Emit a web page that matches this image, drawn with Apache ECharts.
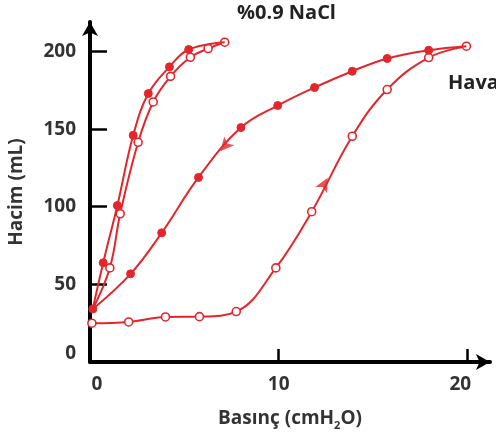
<!DOCTYPE html>
<html>
<head>
<meta charset="utf-8">
<script src="https://cdn.jsdelivr.net/npm/echarts@6/dist/echarts.min.js"></script>
<style>
  html, body { margin: 0; padding: 0; background: #fff; }
  #chart { width: 496px; height: 435px; }
</style>
</head>
<body>
<div id="chart"></div>
<script>
// air, inflation (open circles)
var airInX = [0.1, 2.05, 4.0, 5.8, 7.75, 9.85, 11.75, 13.9, 15.75, 17.95, 19.95];
var airInY = [25, 25.8, 29, 29.2, 32.5, 60.6, 96.8, 145.4, 175.5, 196.1, 203.4];
// air, deflation (filled circles), from the top down
var airOutX = [19.95, 17.95, 15.75, 13.9, 11.9, 9.95, 8.0, 5.75, 3.8, 2.15, 0.15];
var airOutY = [203.4, 200.8, 195.5, 187.3, 176.8, 165.2, 151, 118.9, 83.2, 56.8, 34.2];
// saline, inflation (open circles)
var salInX = [0.1, 1.05, 1.6, 2.55, 3.35, 4.27, 5.32, 6.26, 7.14];
var salInY = [33, 60.6, 95.5, 141.5, 167.5, 184, 196.3, 201.9, 206];
// saline, deflation (filled circles), from the top down
var salOutX = [7.14, 5.23, 4.21, 3.09, 2.29, 1.45, 0.7, 0.15];
var salOutY = [206, 201.3, 190.1, 172.9, 146, 100.8, 63.9, 34.2];
// direction arrows [x, y, rotation]
var arrowX = [12.6, 6.9];
var arrowY = [118.7, 135.7];
var arrowRot = [-28, 139];

var xLabels = [0, 10, 20];
var yLabels = [0, 50, 100, 150, 200];

var red = '#e3262b';
var font = 'Open Sans';

function pts(xs, ys, skipFirst, skipLast) {
    var out = [];
    for (var i = 0; i < xs.length; i++) {
        var item = { value: [xs[i], ys[i]] };
        if ((skipFirst && i == 0) || (skipLast && i == xs.length - 1))
            item.symbol = 'none';
        out.push(item);
    }
    return out;
}

var openStyle = { color: '#fff', borderColor: red, borderWidth: 1.6 };
var fillStyle = { color: red, borderColor: red, borderWidth: 1 };

var dom = document.getElementById('chart');
var myChart = echarts.init(dom, null, { renderer: 'canvas' });

var option = {
    animation: false,
    grid: { left: 90, right: 6, top: 22, bottom: 73, outerBoundsMode: 'none' },
    graphic: [
        { type: 'text', left: 237, top: 3, style: { text: '%0.9 NaCl', font: 'bold 20px "Open Sans"', fill: '#222' } },
        { type: 'text', left: 448, top: 73, style: { text: 'Hava', font: 'bold 20px "Open Sans"', fill: '#222' } }
    ],
    xAxis: {
        type: 'value', min: 0, max: 21.2,
        name: 'Basınç (cmH{s|2}O)',
        nameLocation: 'middle', nameGap: 44,
        nameTextStyle: {
            fontFamily: font, fontWeight: 'bold', fontSize: 19, color: '#333',
            rich: { s: { fontFamily: font, fontWeight: 'bold', fontSize: 11, color: '#333', padding: [14, 0, 0, 0] } }
        },
        axisLine: { lineStyle: { color: '#000', width: 4 }, symbol: ['none', 'arrow'], symbolSize: [12, 14] },
        axisTick: { customValues: [10, 20], inside: true, length: 13, lineStyle: { color: '#000', width: 2.5 } },
        axisLabel: {
            customValues: xLabels, margin: 13,
            fontFamily: font, fontWeight: 'bold', fontSize: 19, color: '#333',
            formatter: function (v) {
                if (v == 0) return '{a|0}';
                if (v == 20) return '{c|20}';
                return String(v);
            },
            rich: {
                a: { fontFamily: font, fontWeight: 'bold', fontSize: 19, color: '#333', padding: [0, 0, 0, 14] },
                c: { fontFamily: font, fontWeight: 'bold', fontSize: 19, color: '#333', padding: [0, 14, 0, 0] }
            }
        },
        splitLine: { show: false }
    },
    yAxis: {
        type: 'value', min: 0, max: 219,
        name: 'Hacim (mL)',
        nameLocation: 'middle', nameGap: 64,
        nameTextStyle: { fontFamily: font, fontWeight: 'bold', fontSize: 19, color: '#333' },
        axisLine: { lineStyle: { color: '#000', width: 4 }, symbol: ['none', 'arrow'], symbolSize: [12, 14] },
        axisTick: { customValues: [50, 100, 150, 200], inside: true, length: 17, lineStyle: { color: '#000', width: 2.5 } },
        axisLabel: {
            customValues: yLabels, margin: 14,
            fontFamily: font, fontWeight: 'bold', fontSize: 19, color: '#333',
            formatter: function (v) { return v == 0 ? '{z|0}' : String(v); },
            rich: { z: { fontFamily: font, fontWeight: 'bold', fontSize: 19, color: '#333', padding: [0, 0, 16, 0] } }
        },
        splitLine: { show: false }
    },
    series: [
        {
            type: 'line', smooth: 0.4, data: pts(airInX, airInY, false, false),
            symbol: 'circle', symbolSize: 8, lineStyle: { color: red, width: 2 }, itemStyle: openStyle, z: 3
        },
        {
            type: 'line', smooth: 0.4, data: pts(airOutX, airOutY, true, false),
            symbol: 'circle', symbolSize: 8, lineStyle: { color: red, width: 2 }, itemStyle: fillStyle, z: 4
        },
        {
            type: 'line', smooth: 0.4, data: pts(salInX, salInY, true, false),
            symbol: 'circle', symbolSize: 8, lineStyle: { color: red, width: 2 }, itemStyle: openStyle, z: 3
        },
        {
            type: 'line', smooth: 0.4, data: pts(salOutX, salOutY, true, true),
            symbol: 'circle', symbolSize: 8, lineStyle: { color: red, width: 2 }, itemStyle: fillStyle, z: 4
        },
        {
            type: 'scatter', symbol: 'arrow', symbolSize: [10, 14],
            data: arrowX.map(function (x, i) { return { value: [x, arrowY[i]], symbolRotate: arrowRot[i] }; }),
            itemStyle: { color: red }, z: 5
        }
    ]
};

myChart.setOption(option);
window.addEventListener('resize', myChart.resize);
</script>
</body>
</html>
